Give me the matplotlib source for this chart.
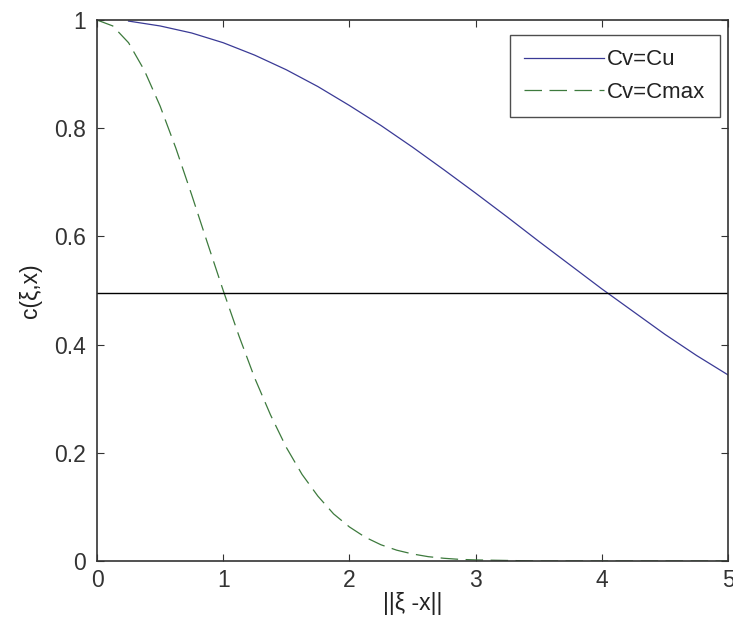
import matplotlib
matplotlib.use("Agg")
import matplotlib.pyplot as plt
from matplotlib.ticker import FixedLocator, FixedFormatter

plt.rcParams['font.family'] = ['Liberation Sans', 'DejaVu Sans']

# Cv=Cu curve
x_cu = [0.25, 0.5, 0.75, 1.0, 1.25, 1.5, 1.75, 2.0, 2.25, 2.5, 2.75, 3.0,
        3.25, 3.5, 3.75, 4.0, 4.25, 4.5, 4.75, 5.0]
y_cu = [0.998, 0.989, 0.976, 0.958, 0.935, 0.908, 0.877, 0.842, 0.805, 0.765,
        0.723, 0.680, 0.636, 0.591, 0.547, 0.503, 0.461, 0.419, 0.380, 0.344]

# Cv=Cmax curve
x_cmax = [0.0, 0.125, 0.25, 0.375, 0.5, 0.625, 0.75, 0.875, 1.0, 1.125, 1.25,
          1.375, 1.5, 1.625, 1.75, 1.875, 2.0, 2.125, 2.25, 2.375, 2.5, 2.625,
          2.75, 2.875, 3.0, 3.5, 4.0, 4.5, 5.0]
y_cmax = [1.000, 0.989, 0.958, 0.907, 0.841, 0.763, 0.677, 0.588, 0.500, 0.416,
          0.338, 0.270, 0.210, 0.160, 0.120, 0.087, 0.063, 0.044, 0.030, 0.020,
          0.013, 0.008, 0.005, 0.003, 0.002, 0.000, 0.000, 0.000, 0.000]

threshold = 0.495

x_ticks = [0, 1, 2, 3, 4, 5]
x_ticklabels = ['0', '1', '2', '3', '4', '5']
y_ticks = [0, 0.2, 0.4, 0.6, 0.8, 1.0]
y_ticklabels = ['0', '0.2', '0.4', '0.6', '0.8', '1']

W, H = 733, 628
fig = plt.figure(figsize=(W / 100, H / 100), dpi=100)
L, R, T, B = 97, 728, 20, 561
ax = fig.add_axes([L / W, (H - B) / H, (R - L) / W, (B - T) / H])

ax.plot(x_cu, y_cu, color='#3a3a96', lw=0.9, label='Cv=Cu')
ax.plot(x_cmax, y_cmax, color='#3d7a3d', lw=0.9, ls=(0, (14, 6)), label='Cv=Cmax')
ax.axhline(threshold, color='black', lw=1.0)

ax.set_xlim(0, 5)
ax.set_ylim(0, 1)
ax.xaxis.set_major_locator(FixedLocator(x_ticks))
ax.xaxis.set_major_formatter(FixedFormatter(x_ticklabels))
ax.yaxis.set_major_locator(FixedLocator(y_ticks))
ax.yaxis.set_major_formatter(FixedFormatter(y_ticklabels))
ax.tick_params(direction='in', top=True, right=True, labelsize=16.5, length=5,
               width=0.8, colors='#333333', labelcolor='#333333')
ax.tick_params(axis='x', pad=6)
ax.tick_params(axis='y', pad=8)
for s in ax.spines.values():
    s.set_linewidth(1.2)
    s.set_color('#333333')

ax.set_xlabel('||ξ -x||', fontsize=16.5, labelpad=0, color='#222222')
ax.set_ylabel('c(ξ,x)', fontsize=16.5, labelpad=9, color='#222222')

leg = ax.legend(loc='upper right', bbox_to_anchor=((720 - L) / (R - L), (B - 35) / (B - T)),
                borderaxespad=0, fontsize=16, handlelength=3.6, frameon=True,
                fancybox=False, edgecolor='#222222', handletextpad=0.15,
                labelspacing=0.5, borderpad=0.65)
leg.get_frame().set_linewidth(1.0)
for t in leg.get_texts():
    t.set_color('#222222')

fig.savefig('out.png', dpi=100)
